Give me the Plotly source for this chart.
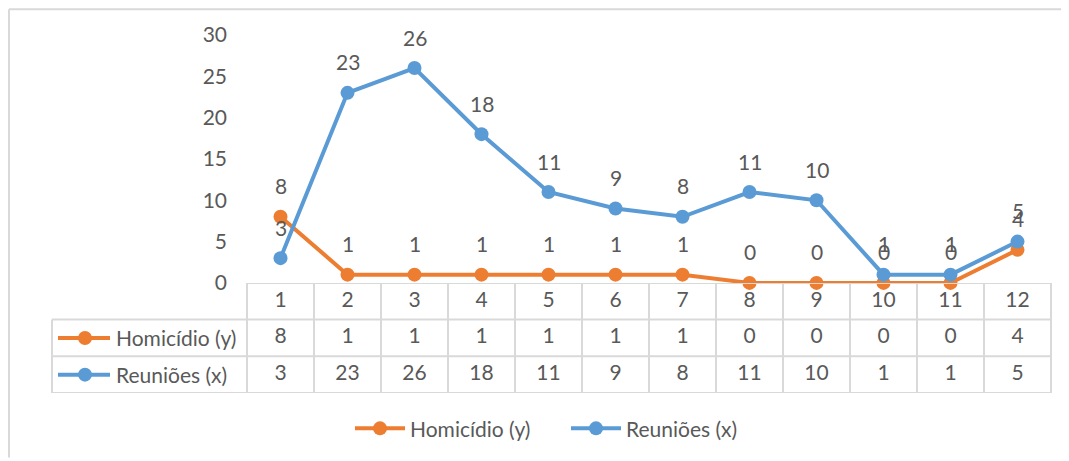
import plotly.graph_objects as go

categories = [1, 2, 3, 4, 5, 6, 7, 8, 9, 10, 11, 12]
homicidio = [8, 1, 1, 1, 1, 1, 1, 0, 0, 0, 0, 4]
reunioes = [3, 23, 26, 18, 11, 9, 8, 11, 10, 1, 1, 5]
series_names = ["Homicídio (y)", "Reuniões (x)"]
y_ticks = [0, 5, 10, 15, 20, 25, 30]

ORANGE = "#ED7D31"
BLUE = "#5B9BD5"
TXT = "#595959"
GRID = "#D9D9D9"
FONT = "Lato"
FS = 21

OFF = 8  # page body margin
W, H = 1069 - OFF, 461 - OFF
ML, MT = 247 - OFF, 35 - OFF
PLOT_R = 1051 - OFF
PLOT_B = 396 - OFF
MR = W - PLOT_R
MB = H - PLOT_B
PW = W - ML - MR
PH = H - MT - MB
chart_bottom_px = 285 - OFF
dom_split = (PLOT_B - chart_bottom_px) / PH


def px_x(px):
    return (px - OFF - ML) / PW


def px_y(py):
    return (PLOT_B - (py - OFF)) / PH


fig = go.Figure()

fig.add_trace(go.Scatter(
    x=categories, y=homicidio, name=series_names[0], mode="lines+markers",
    line=dict(color=ORANGE, width=4), marker=dict(size=14, color=ORANGE),
    cliponaxis=False, xaxis="x", yaxis="y"))
fig.add_trace(go.Scatter(
    x=categories, y=reunioes, name=series_names[1], mode="lines+markers",
    line=dict(color=BLUE, width=4), marker=dict(size=14, color=BLUE),
    cliponaxis=False, xaxis="x", yaxis="y"))

# data table text
row_values = [
    (2.5, [str(c) for c in categories]),
    (1.5, [str(v) for v in homicidio]),
    (0.5, [str(v) for v in reunioes]),
]
for yrow, texts in row_values:
    fig.add_trace(go.Scatter(
        x=categories, y=[yrow] * len(categories), text=texts, mode="text",
        textfont=dict(family=FONT, size=FS, color=TXT), showlegend=False,
        hoverinfo="skip", xaxis="x", yaxis="y2", cliponaxis=False))

annotations = []
# data labels
for series in (homicidio, reunioes):
    for c, v in zip(categories, series):
        annotations.append(dict(
            x=c, y=v, xref="x", yref="y", text=str(v), showarrow=False,
            yshift=31, font=dict(family=FONT, size=FS, color=TXT)))

shapes = []
line_style = dict(color=GRID, width=2)
left_px = 52
# horizontal table lines
shapes.append(dict(type="line", xref="paper", yref="y2", x0=0, x1=1, y0=3, y1=3, line=line_style))
for yy in (2, 1, 0):
    shapes.append(dict(type="line", xref="paper", yref="y2", x0=px_x(left_px), x1=1,
                       y0=yy, y1=yy, line=line_style))
# vertical table lines
shapes.append(dict(type="line", xref="paper", yref="y2", x0=px_x(left_px), x1=px_x(left_px),
                   y0=0, y1=2, line=line_style))
shapes.append(dict(type="line", xref="paper", yref="y2", x0=0, x1=0, y0=0, y1=3, line=line_style))
shapes.append(dict(type="line", xref="paper", yref="y2", x0=1, x1=1, y0=0, y1=3, line=line_style))
for c in categories[:-1]:
    shapes.append(dict(type="line", xref="x", yref="y2", x0=c + 0.5, x1=c + 0.5,
                       y0=0, y1=3, line=line_style))

# table row headers with legend keys
for (yrow, name, col) in ((1.5, series_names[0], ORANGE), (0.5, series_names[1], BLUE)):
    shapes.append(dict(type="line", xref="paper", yref="y2", x0=px_x(58), x1=px_x(110),
                       y0=yrow, y1=yrow, line=dict(color=col, width=4)))
    shapes.append(dict(type="circle", xref="paper", yref="y2", xsizemode="pixel", ysizemode="pixel",
                       xanchor=px_x(85), yanchor=yrow, x0=-7, x1=7, y0=-7, y1=7,
                       fillcolor=col, line=dict(color=col, width=0)))
    annotations.append(dict(x=px_x(114), y=yrow, xref="paper", yref="y2", text=name,
                            showarrow=False, xanchor="left", yanchor="middle",
                            font=dict(family=FONT, size=FS, color=TXT)))

# outer chart border (top and left)
shapes.append(dict(type="line", xref="paper", yref="paper", x0=px_x(9), x1=px_x(1069),
                   y0=px_y(9), y1=px_y(9), line=dict(color=GRID, width=2)))
shapes.append(dict(type="line", xref="paper", yref="paper", x0=px_x(9), x1=px_x(9),
                   y0=px_y(9), y1=px_y(461), line=dict(color=GRID, width=2)))

fig.update_layout(
    width=W, height=H,
    margin=dict(l=ML, r=MR, t=MT, b=MB),
    paper_bgcolor="white", plot_bgcolor="white",
    font=dict(family=FONT, size=FS, color=TXT),
    xaxis=dict(range=[0.5, 12.5], showticklabels=False, showgrid=False, zeroline=False,
               showline=False, ticks="", fixedrange=True),
    yaxis=dict(domain=[dom_split, 1], range=[0, 30], tickvals=y_ticks, showgrid=False,
               zeroline=False, showline=False, ticks="", ticklabelstandoff=19,
               tickfont=dict(family=FONT, size=FS, color=TXT)),
    yaxis2=dict(domain=[0, dom_split], range=[0, 3], visible=False, anchor="x"),
    legend=dict(orientation="h", x=px_x(350), xanchor="left", y=px_y(432), yanchor="middle",
                font=dict(family=FONT, size=FS, color=TXT), itemwidth=50,
                entrywidth=151, entrywidthmode="pixels"),
    showlegend=True,
    shapes=shapes,
    annotations=annotations,
)

fig.write_html("out.html")
